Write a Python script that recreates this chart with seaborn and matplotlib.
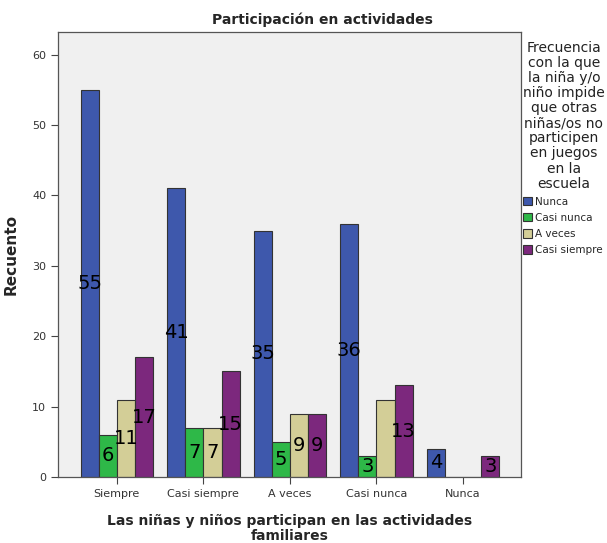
import pandas as pd
import matplotlib
matplotlib.use("Agg")
import matplotlib.pyplot as plt
import seaborn as sns

# Data
categorias = ['Siempre', 'Casi siempre', 'A veces', 'Casi nunca', 'Nunca']
frecuencias = ['Nunca', 'Casi nunca', 'A veces', 'Casi siempre']
nunca = [55, 41, 35, 36, 4]
casi_nunca = [6, 7, 5, 3, 0]
a_veces = [11, 7, 9, 11, 0]
casi_siempre = [17, 15, 9, 13, 3]

# labels that the original chart does not print (hidden by overlap)
sin_etiqueta = [('A veces', 'Casi nunca')]

colores = ['#3E58AC', '#2EB848', '#D3CE97', '#7C287D']


def build_frame():
    series = [nunca, casi_nunca, a_veces, casi_siempre]
    rows = []
    for serie, valores in zip(frecuencias, series):
        for cat, v in zip(categorias, valores):
            rows.append({'categoria': cat, 'frecuencia': serie, 'recuento': v})
    return pd.DataFrame(rows)


def main():
    df = build_frame()
    sns.set_style("white")
    plt.rcParams['font.family'] = ['DejaVu Sans']

    fig = plt.figure(figsize=(6.07, 5.43), dpi=100)
    ax = fig.add_axes([58 / 607, 1 - 477 / 543, (521 - 58) / 607, (477 - 32) / 543])
    ax.set_facecolor('#F0F0F0')

    sns.barplot(data=df, x='categoria', y='recuento', hue='frecuencia',
                order=categorias, hue_order=frecuencias, palette=colores,
                width=0.84, gap=0, edgecolor='#333333', linewidth=0.8,
                saturation=1, errorbar=None, ax=ax)

    # value labels in the middle of each bar, skip zero counts
    for serie, container in zip(frecuencias, ax.containers):
        labels = []
        for cat, b in zip(categorias, container):
            h = b.get_height()
            if h > 0 and (serie, cat) not in sin_etiqueta:
                labels.append(f'{int(h)}')
            else:
                labels.append('')
        ax.bar_label(container, labels=labels, label_type='center',
                     fontsize=14, color='black')

    ax.set_xlim(-0.68, 4.67)
    ax.set_ylim(0, 63.2)
    ax.set_yticks([0, 10, 20, 30, 40, 50, 60])
    ax.tick_params(axis='both', direction='out', length=5, width=0.8,
                   colors='#444444', labelsize=8, labelcolor='#333333',
                   bottom=True, left=True)
    for sp in ax.spines.values():
        sp.set_visible(True)
        sp.set_color('#555555')
        sp.set_linewidth(0.9)

    ax.set_xlabel('Las niñas y niños participan en las actividades\nfamiliares',
                  fontsize=10, fontweight='bold', labelpad=11, linespacing=1.05)
    ax.set_ylabel('Recuento', fontsize=11, fontweight='bold', labelpad=10)

    fig.text(322 / 607, 1 - 20 / 543, 'Participación en actividades',
             ha='center', va='center', fontsize=10, fontweight='bold')

    titulo = ('Frecuencia\ncon la que\nla niña y/o\nniño impide\nque otras\n'
              'niñas/os no\nparticipen\nen juegos\nen la\nescuela')
    leg = ax.legend(title=titulo, loc='upper left', bbox_to_anchor=(1.0, 0.985),
                    frameon=False, fontsize=7.5, title_fontsize=10,
                    handlelength=0.9, handleheight=0.9, handletextpad=0.25,
                    labelspacing=0.58, borderaxespad=0, borderpad=0.2)
    leg.get_title().set_multialignment('center')
    leg.get_title().set_linespacing(1.1)
    leg.get_title().set_color('#222222')
    leg._legend_box.align = 'left'

    fig.savefig('out.png', dpi=100)


if __name__ == "__main__":
    main()
